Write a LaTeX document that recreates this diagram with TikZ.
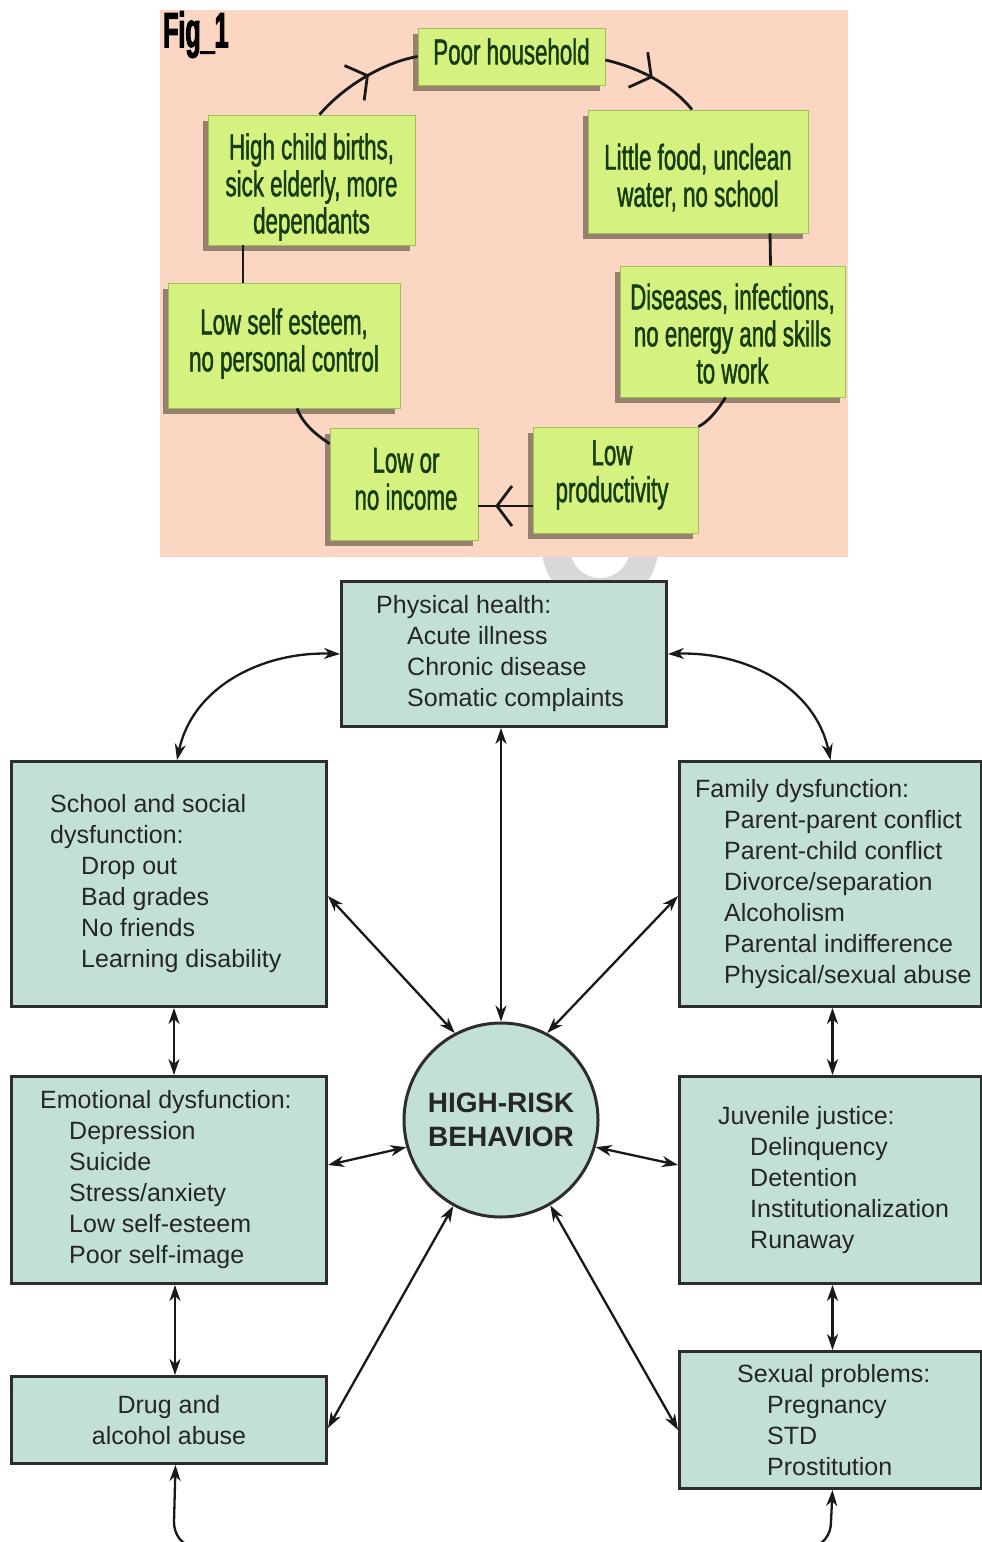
\documentclass[tikz,border=0pt]{standalone}
\usepackage{fontspec}
\setmainfont{Liberation Sans}
\newfontfamily\condfont[FakeStretch=0.62,FakeBold=1.2]{Liberation Sans}
\newfontfamily\figfont[FakeStretch=0.5,FakeBold=2]{Liberation Sans Bold}
\usetikzlibrary{arrows.meta,shadows,decorations.markings}
\definecolor{pinkbg}{RGB}{251,214,195}
\definecolor{gfill}{RGB}{213,242,128}
\definecolor{gline}{RGB}{160,190,90}
\definecolor{gtext}{RGB}{22,60,18}
\definecolor{gshadow}{RGB}{150,128,110}
\definecolor{tfill}{RGB}{194,224,215}
\definecolor{tline}{RGB}{45,45,45}
\definecolor{ttext}{RGB}{38,38,38}
\definecolor{wmark}{RGB}{216,216,216}
\tikzset{
  gbox/.style={draw=gline, line width=0.8pt, fill=gfill, inner sep=0pt,
    general shadow={fill=gshadow, shadow xshift=-5pt, shadow yshift=-6pt}},
  gtxt/.style={text=gtext, font=\condfont\fontsize{36}{37}\selectfont, align=center, inner sep=0pt},
  cyc/.style={line width=2.8pt, draw=black!90},
  vmark/.style={postaction={decorate}, decoration={markings,
    mark=at position #1 with {\arrow{Straight Barb[length=15pt,width=40pt,line width=2.8pt]}}}},
  tbox/.style={draw=tline, line width=3pt, fill=tfill, anchor=north west, inner sep=0pt},
  tlabel/.style={text=ttext, font=\fontsize{25}{31}\selectfont, align=left, inner sep=0pt, anchor=west},
  conn/.style={line width=2.3pt, draw=black!90},
  >={Stealth[length=16pt,width=11pt,inset=5pt]}
}
\begin{document}
\begin{tikzpicture}[x=1pt,y=-1pt]
\useasboundingbox (0,0) rectangle (982,1542);
\fill[white] (0,0) rectangle (982,1542);
% watermark fragment
\draw[wmark, line width=28pt] (600,548) circle[radius=44pt];
% ---------- Fig 1 ----------
\fill[pinkbg] (160,10) rectangle (848,557);
\node[anchor=north west, inner sep=0pt, font=\figfont\fontsize{50}{50}\selectfont] (fig) at (163,11) {Fig\_1};

\node[gbox, minimum width=187pt, minimum height=57pt] (poor) at (511.5,56.5) {};
\node[gtxt] (poorT) at (511.5,51.5) {Poor household};
\node[gbox, minimum width=207pt, minimum height=130pt] (births) at (311.5,180) {};
\node[gtxt] (birthsT) at (311.5,187) {High child births,\\sick elderly, more\\dependants};
\node[gbox, minimum width=220pt, minimum height=123pt] (food) at (698,171.5) {};
\node[gtxt] (foodT) at (698,177.5) {Little food, unclean\\water, no school};
\node[gbox, minimum width=225pt, minimum height=131pt] (disease) at (732.5,331.5) {};
\node[gtxt] (diseaseT) at (732.5,333.5) {Diseases, infections,\\no energy and skills\\to work};
\node[gbox, minimum width=232pt, minimum height=125pt] (esteem) at (284,345.5) {};
\node[gtxt] (esteemT) at (284,343.5) {Low self esteem,\\no personal control};
\node[gbox, minimum width=148pt, minimum height=112pt] (income) at (404,484) {};
\node[gtxt] (incomeT) at (406,479) {Low or\\no income};
\node[gbox, minimum width=165pt, minimum height=106pt] (product) at (615.5,480) {};
\node[gtxt] (productT) at (612,475) {Low\\productivity};

\draw[cyc, vmark=0.55] ([xshift=8pt]births.north) .. controls (345,85) and (385,62) .. (poor.west);
\draw[cyc, vmark=0.5] ([yshift=-3.5pt]poor.east) .. controls (640,68) and (672,85) .. ([xshift=-6pt]food.north);
\draw[cyc] ([xshift=72pt]food.south) -- ([xshift=38pt]disease.north);
\draw[cyc] ([xshift=-7pt]disease.south) .. controls (718,410) and (708,422) .. (product.north east);
\draw[cyc, vmark=0.69] ([yshift=-26pt]product.west) -- ([yshift=-22pt]income.east);
\draw[cyc] ([yshift=-16pt]income.north west) .. controls (315,434) and (303,424) .. ([xshift=13pt]esteem.south);
\draw[cyc] ([xshift=-41pt]esteem.north) -- ([xshift=-68.5pt]births.south);

% ---------- High-risk behavior ----------
\node[tbox, minimum width=325pt, minimum height=145pt] (ph) at (340,580) {};
\node[tlabel] (phT) at ([xshift=36pt]ph.west) {Physical health:\\\hspace*{31pt}Acute illness\\\hspace*{31pt}Chronic disease\\\hspace*{31pt}Somatic complaints};

\node[tbox, minimum width=315pt, minimum height=245pt] (school) at (10,760) {};
\node[tlabel] (schoolT) at ([xshift=40pt]school.west) {School and social\\dysfunction:\\\hspace*{31pt}Drop out\\\hspace*{31pt}Bad grades\\\hspace*{31pt}No friends\\\hspace*{31pt}Learning disability};

\node[tbox, minimum width=302pt, minimum height=245pt] (fam) at (678,760) {};
\node[tlabel] (famT) at ([xshift=17pt]fam.west) {Family dysfunction:\\\hspace*{29pt}Parent-parent conflict\\\hspace*{29pt}Parent-child conflict\\\hspace*{29pt}Divorce/separation\\\hspace*{29pt}Alcoholism\\\hspace*{29pt}Parental indifference\\\hspace*{29pt}Physical/sexual abuse};

\node[tbox, minimum width=315pt, minimum height=207pt] (emo) at (10,1075) {};
\node[tlabel] (emoT) at ([xshift=30pt]emo.west) {Emotional dysfunction:\\\hspace*{29pt}Depression\\\hspace*{29pt}Suicide\\\hspace*{29pt}Stress/anxiety\\\hspace*{29pt}Low self-esteem\\\hspace*{29pt}Poor self-image};

\node[tbox, minimum width=302pt, minimum height=207pt] (juv) at (678,1075) {};
\node[tlabel] (juvT) at ([xshift=40pt]juv.west) {Juvenile justice:\\\hspace*{32pt}Delinquency\\\hspace*{32pt}Detention\\\hspace*{32pt}Institutionalization\\\hspace*{32pt}Runaway};

\node[tbox, minimum width=315pt, minimum height=87pt, text=ttext, font=\fontsize{25}{31}\selectfont, align=center] (drug) at (10,1375) {Drug and\\alcohol abuse};

\node[tbox, minimum width=302pt, minimum height=137pt] (sex) at (678,1350) {};
\node[tlabel] (sexT) at ([xshift=59pt]sex.west) {Sexual problems:\\\hspace*{30pt}Pregnancy\\\hspace*{30pt}STD\\\hspace*{30pt}Prostitution};

\node[circle, draw=tline, line width=3pt, fill=tfill, minimum size=194pt, inner sep=0pt,
  text=ttext, font=\bfseries\fontsize{28}{34}\selectfont, align=center] (hr) at (501,1120) {HIGH-RISK\\BEHAVIOR};

\coordinate (dA) at (174,1522);
\coordinate (dB) at (194,1546);
\coordinate (sA) at (831,1522);
\coordinate (sB) at (811,1546);

\draw[conn, <->] (ph.west) to[out=178, in=78] ([xshift=8pt]school.north);
\draw[conn, <->] (ph.east) to[out=2, in=102] (fam.north);
\draw[conn, <->] (ph.south -| hr.north) -- (hr.north);
\draw[conn, <->] ([yshift=-12pt]school.east) -- (hr.118);
\draw[conn, <->] ([yshift=-12pt]fam.west) -- (hr.62);
\draw[conn, <->] ([yshift=15pt]emo.east) -- (hr.196);
\draw[conn, <->] ([yshift=15pt]juv.west) -- (hr.344);
\draw[conn, <->] ([yshift=-8pt]drug.east) -- (hr.241);
\draw[conn, <->] ([yshift=-10pt]sex.west) -- (hr.300);
\draw[conn, <->] ([xshift=5pt]school.south) -- ([xshift=5pt]emo.north);
\draw[conn, <->] ([xshift=6pt]emo.south) -- ([xshift=6pt]drug.north);
\draw[conn, <->] ([xshift=2pt]fam.south) -- ([xshift=2pt]juv.north);
\draw[conn, <->] ([xshift=2pt]juv.south) -- ([xshift=2pt]sex.north);
\draw[conn, <-] ([xshift=6.5pt]drug.south) -- (dA) to[out=-90, in=180] (dB);
\draw[conn, <-] ([xshift=2pt]sex.south) -- (sA) to[out=-90, in=0] (sB);
\end{tikzpicture}
\end{document}
